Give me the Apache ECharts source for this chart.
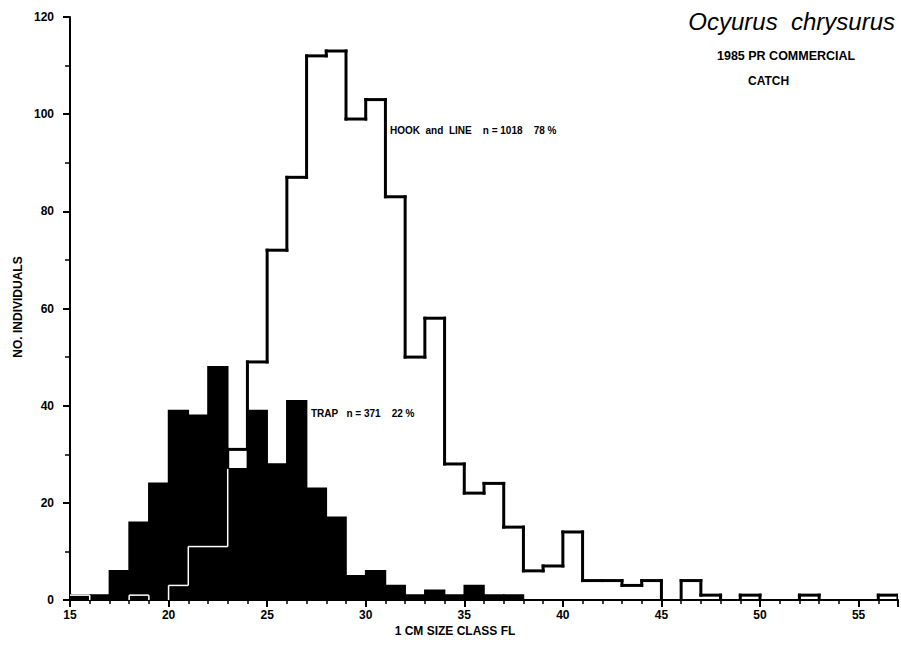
<!DOCTYPE html>
<html>
<head>
<meta charset="utf-8">
<script src="https://cdn.jsdelivr.net/npm/echarts@6/dist/echarts.min.js"></script>
<style>
  html, body { margin: 0; padding: 0; background: #fff; }
  #size_chart { width: 901px; height: 656px; }
</style>
</head>
<body>
<div id="size_chart"></div>
<script>
// 1 cm size classes (start of each bin, fork length in cm)
var sizeClass = [15, 16, 17, 18, 19, 20, 21, 22, 23, 24, 25, 26, 27, 28, 29, 30, 31, 32, 33, 34, 35,
    36, 37, 38, 39, 40, 41, 42, 43, 44, 45, 46, 47, 48, 49, 50, 51, 52, 53, 54, 55, 56];

// hook and line catch per class (n = 1018)
var hookLine = [1, 0, 0, 1, 0, 3, 11, 11, 31, 49, 72, 87, 112, 113, 99, 103, 83, 50, 58, 28, 22,
    24, 15, 6, 7, 14, 4, 4, 3, 4, 0, 4, 1, 0, 1, 0, 0, 1, 0, 0, 0, 1];

// trap catch per class (n = 371)
var trap = [1, 1, 6, 16, 24, 39, 38, 48, 27, 39, 28, 41, 23, 17, 5, 6, 3, 1, 2, 1, 3,
    1, 1, 0, 0, 0, 0, 0, 0, 0, 0, 0, 0, 0, 0, 0, 0, 0, 0, 0, 0, 0];

var xTicksMajor = [15, 20, 25, 30, 35, 40, 45, 50, 55];

var chart = echarts.init(document.getElementById('size_chart'), null, { renderer: 'svg' });

var labelFont = '"Liberation Sans", Arial, sans-serif';

// rows for the filled trap bars
var trapData = sizeClass.map(function (x, i) { return [x, trap[i]]; });

// rows for the hook and line outline: start, value, trap, previous value, previous trap
var hookData = sizeClass.map(function (x, i) {
    return [x, hookLine[i], trap[i], i > 0 ? hookLine[i - 1] : 0, i > 0 ? trap[i - 1] : 0];
});
var last = sizeClass.length - 1;
hookData.push([sizeClass[last] + 1, 0, 0, hookLine[last], trap[last]]);

function seg(api, a, b, white) {
    var p1 = api.coord(a), p2 = api.coord(b);
    return {
        type: 'line',
        shape: { x1: p1[0], y1: p1[1], x2: p2[0], y2: p2[1] },
        style: white
            ? { stroke: '#fff', lineWidth: 1.5, lineCap: 'butt' }
            : { stroke: '#000', lineWidth: 3, lineCap: 'square' },
        z2: white ? 2 : 1
    };
}

function renderHook(params, api) {
    var x0 = api.value(0), h = api.value(1), t = api.value(2);
    var ph = api.value(3), pt = api.value(4);
    var kids = [];
    // vertical step at bin start
    if (ph !== h) {
        var low = Math.min(ph, h), high = Math.max(ph, h);
        var m = Math.min(pt, t);
        if (m > low) kids.push(seg(api, [x0, low], [x0, Math.min(high, m)], true));
        if (high > m) kids.push(seg(api, [x0, Math.max(low, m)], [x0, high], false));
    }
    // top of the bin
    if (h > 0) {
        kids.push(seg(api, [x0, h], [x0 + 1, h], h <= t));
    }
    return { type: 'group', children: kids };
}

function renderTrap(params, api) {
    var x0 = api.value(0), v = api.value(1);
    if (!v) return null;
    var p1 = api.coord([x0, v]), p2 = api.coord([x0 + 1, 0]);
    return {
        type: 'rect',
        shape: { x: p1[0], y: p1[1], width: p2[0] - p1[0], height: p2[1] - p1[1] },
        style: { fill: '#000', stroke: '#000', lineWidth: 1.6 }
    };
}

var option = {
    animation: false,
    backgroundColor: '#fff',
    grid: { left: 70, right: 3, top: 17, bottom: 56 },
    xAxis: [{
        type: 'value',
        min: 15,
        max: 57,
        interval: 5,
        axisLine: { lineStyle: { color: '#000', width: 2 } },
        axisTick: { length: 7, lineStyle: { color: '#000', width: 2 } },
        axisLabel: {
            color: '#000', fontWeight: 'bold', fontSize: 12, fontFamily: labelFont, margin: 9,
            formatter: function (v) { return xTicksMajor.indexOf(v) >= 0 ? String(v) : ''; }
        },
        splitLine: { show: false }
    }, {
        type: 'value',
        min: 15,
        max: 57,
        interval: 1,
        position: 'bottom',
        offset: 0,
        axisLine: { show: false },
        axisTick: { length: 4, lineStyle: { color: '#000', width: 1.5 } },
        axisLabel: { show: false },
        splitLine: { show: false }
    }],
    yAxis: {
        type: 'value',
        min: 0,
        max: 120,
        interval: 20,
        axisLine: { show: true, lineStyle: { color: '#000', width: 2 } },
        axisTick: { show: true, length: 7, lineStyle: { color: '#000', width: 2 } },
        minorTick: { show: true, splitNumber: 2, length: 5, lineStyle: { color: '#000', width: 1.5 } },
        axisLabel: { color: '#000', fontWeight: 'bold', fontSize: 12, fontFamily: labelFont, margin: 16 },
        splitLine: { show: false },
        minorSplitLine: { show: false }
    },
    series: [{
        name: 'Trap',
        type: 'custom',
        renderItem: renderTrap,
        clip: true,
        encode: { x: 0, y: 1 },
        data: trapData,
        z: 2
    }, {
        name: 'Hook and line',
        type: 'custom',
        renderItem: renderHook,
        clip: true,
        encode: { x: 0, y: 1 },
        data: hookData,
        z: 3
    }],
    graphic: [{
        type: 'text', right: 6, top: 9,
        style: { text: 'Ocyurus  chrysurus', font: 'italic 24px ' + labelFont, fill: '#000' }
    }, {
        type: 'text', left: 717, top: 49,
        style: { text: '1985 PR COMMERCIAL', font: 'bold 12.5px ' + labelFont, fill: '#000' }
    }, {
        type: 'text', left: 748, top: 75,
        style: { text: 'CATCH', font: 'bold 12px ' + labelFont, fill: '#000' }
    }, {
        type: 'text', left: 390, top: 125,
        style: { text: 'HOOK  and  LINE    n = 1018    78 %', font: 'bold 10px ' + labelFont, fill: '#000' }
    }, {
        type: 'text', left: 311, top: 408,
        style: { text: 'TRAP   n = 371    22 %', font: 'bold 10px ' + labelFont, fill: '#000' }
    }, {
        type: 'text', x: 18, y: 307, rotation: Math.PI / 2,
        style: { text: 'NO. INDIVIDUALS', font: 'bold 12px ' + labelFont, fill: '#000',
            textAlign: 'center', textVerticalAlign: 'middle' }
    }, {
        type: 'text', x: 455, y: 631,
        style: { text: '1 CM SIZE CLASS FL', font: 'bold 12px ' + labelFont, fill: '#000',
            textAlign: 'center', textVerticalAlign: 'middle' }
    }]
};

chart.setOption(option);
</script>
</body>
</html>
